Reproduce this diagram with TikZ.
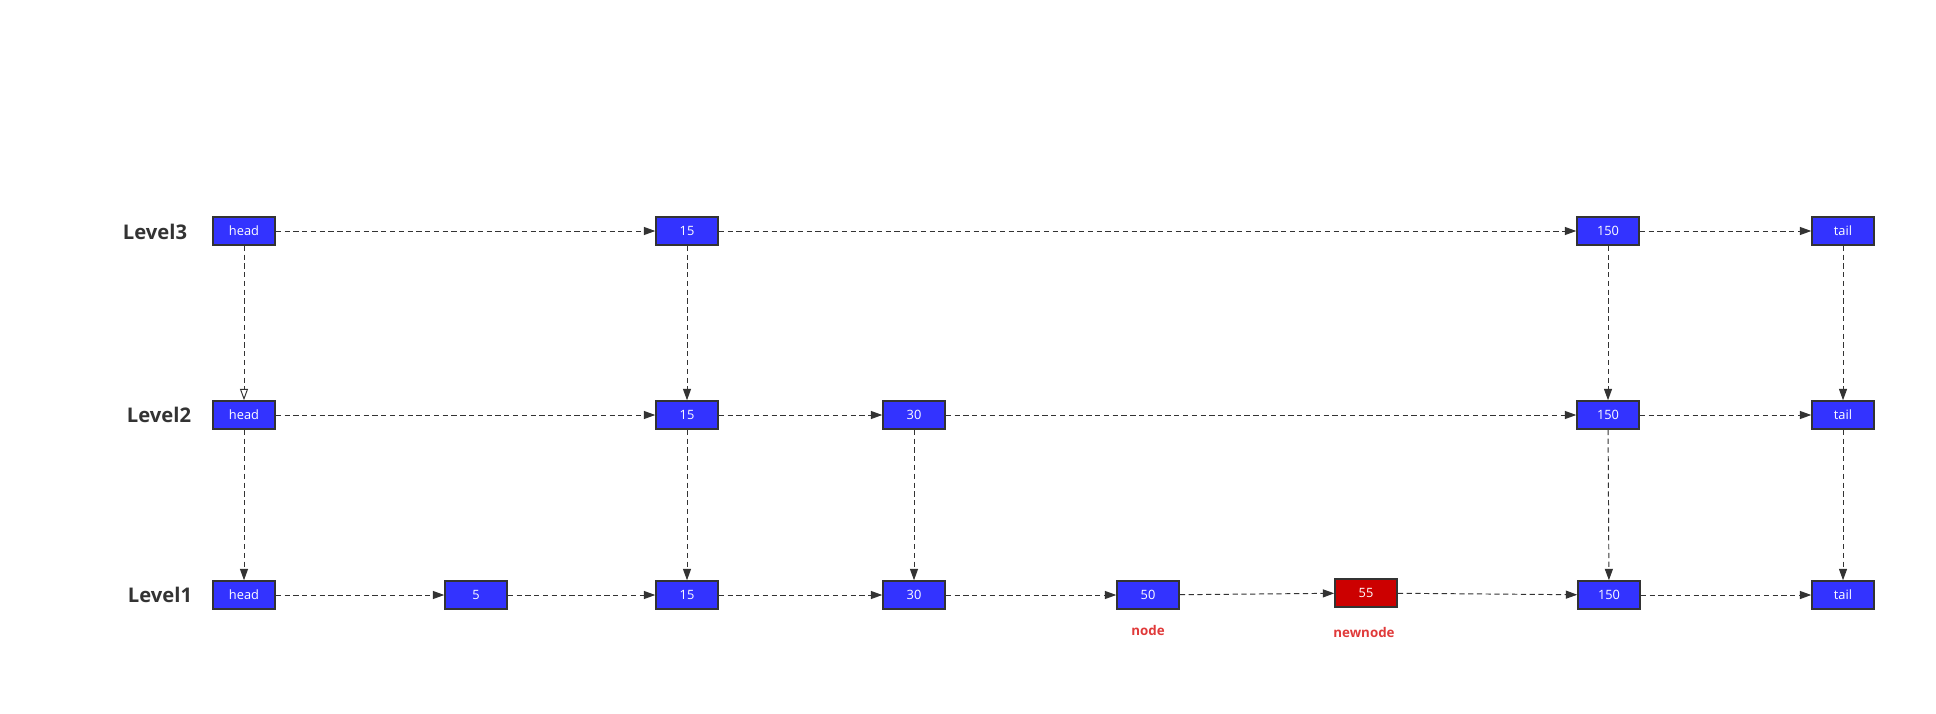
\documentclass[tikz,border=0pt]{standalone}
\usepackage{fontspec}
\setmainfont{Open Sans}
\usetikzlibrary{arrows.meta}
\definecolor{boxblue}{HTML}{3333FF}
\definecolor{boxred}{HTML}{CC0000}
\definecolor{edgegray}{HTML}{333333}
\definecolor{tagred}{HTML}{E03A3A}
\begin{document}
\begin{tikzpicture}[x=0.02cm,y=-0.02cm]

  \tikzstyle{cell}=[draw=edgegray,line width=0.9pt,fill=boxblue,text=white,
                    minimum width=1.24cm,minimum height=0.56cm,inner sep=0pt,
                    font=\fontsize{7.3}{8}\selectfont]
  \tikzstyle{level}=[font=\fontsize{11.5}{13}\selectfont\bfseries,text=edgegray]
  \tikzstyle{link}=[edgegray,line width=0.55pt,dash pattern=on 3pt off 2pt,
                    -{Triangle[length=6.5pt,width=4.6pt]}]
  \tikzstyle{tag}=[font=\fontsize{7.6}{9}\selectfont\bfseries,text=tagred]

  \useasboundingbox (0,0) rectangle (1936,713);

  \node[level] (lv-3) at (155,232) {Level3};
  \node[level] (lv-2) at (159,415) {Level2};
  \node[level] (lv-1) at (160,595) {Level1};

  \foreach \name/\x/\text in {head/244/head, 15/687/15, 150/1608/150, tail/1843/tail}
    \node[cell] (L3-\name) at (\x,231) {\text};

  \foreach \name/\x/\text in {head/244/head, 15/687/15, 30/914/30,
                              150/1608/150, tail/1843/tail}
    \node[cell] (L2-\name) at (\x,415) {\text};

  \foreach \name/\x/\text in {head/244/head, 5/476/5, 15/687/15, 30/914/30,
                              50/1148/50, 150/1609/150, tail/1843/tail}
    \node[cell] (L1-\name) at (\x,595) {\text};

  \node[cell,fill=boxred] (L1-55) at (1366,593) {55};

  \node[tag] (tag-node) at (1148,630) {node};
  \node[tag] (tag-newnode) at (1364,632) {newnode};

  % horizontal links
  \foreach \from/\to in {head/15,15/150,150/tail}
    \draw[link] (L3-\from) -- (L3-\to);
  \foreach \from/\to in {head/15,15/30,30/150,150/tail}
    \draw[link] (L2-\from) -- (L2-\to);
  \foreach \from/\to in {head/5,5/15,15/30,30/50,50/55,55/150,150/tail}
    \draw[link] (L1-\from) -- (L1-\to);

  % vertical links
  \draw[link,-{Triangle[open,length=6.5pt,width=4.6pt]}] (L3-head) -- (L2-head);
  \foreach \name in {15,150,tail}
    \draw[link] (L3-\name) -- (L2-\name);
  \foreach \name in {head,15,30,150,tail}
    \draw[link] (L2-\name) -- (L1-\name);
\end{tikzpicture}
\end{document}
